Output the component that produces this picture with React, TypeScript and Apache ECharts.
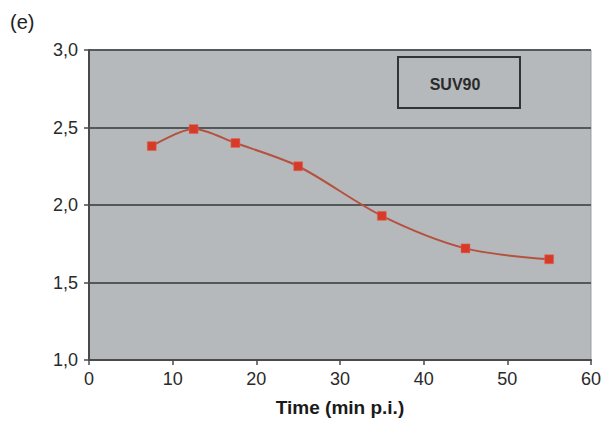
import React, { useEffect, useRef } from "react";
import * as echarts from "echarts";

const timeMin = [7.5, 12.5, 17.5, 25, 35, 45, 55];
const suv90 = [2.38, 2.49, 2.4, 2.25, 1.93, 1.72, 1.65];
const seriesName = "SUV90";
const panelLabel = "(e)";
const xTitle = "Time (min p.i.)";

export default function App() {
  const ref = useRef<HTMLDivElement>(null);
  useEffect(() => {
    if (!ref.current) return;
    const chart = echarts.init(ref.current, null, { renderer: "svg" });
    chart.setOption({
      animation: false,
      backgroundColor: "#ffffff",
      textStyle: { fontFamily: "Liberation Sans, Arial, sans-serif" },
      grid: {
        left: 89,
        right: 12,
        top: 50,
        bottom: 65,
        show: true,
        backgroundColor: "#b6b9bc",
        borderColor: "#9a9da0",
        borderWidth: 1,
      },
      xAxis: {
        type: "value",
        min: 0,
        max: 60,
        interval: 10,
        name: xTitle,
        nameLocation: "middle",
        nameGap: 38,
        nameTextStyle: { fontSize: 19, fontWeight: "bold", color: "#1a1a1a" },
        axisLine: { show: true, lineStyle: { color: "#4a4a4a", width: 2 } },
        axisTick: { show: true, length: 5, lineStyle: { color: "#4a4a4a", width: 1.5 } },
        axisLabel: { fontSize: 18, color: "#2a2a2a", margin: 10 },
        splitLine: { show: false },
      },
      yAxis: {
        type: "value",
        min: 1,
        max: 3,
        interval: 0.5,
        axisLine: { show: true, lineStyle: { color: "#4a4a4a", width: 2 } },
        axisTick: { show: true, length: 5, lineStyle: { color: "#4a4a4a", width: 1.5 } },
        axisLabel: {
          fontSize: 18,
          color: "#2a2a2a",
          margin: 11,
          formatter: (v: number) => v.toFixed(1).replace(".", ","),
        },
        splitLine: { show: true, lineStyle: { color: "#55585a", width: 2 } },
      },
      graphic: [
        {
          type: "text",
          left: 10,
          top: 12,
          style: { text: panelLabel, fontSize: 20, fill: "#222", fontFamily: "Liberation Sans, Arial, sans-serif" },
        },
        {
          type: "rect",
          shape: { x: 398, y: 57, width: 122, height: 51 },
          style: { fill: "#b6b9bc", stroke: "#333", lineWidth: 2 },
          z: 10,
        },
        {
          type: "text",
          x: 455,
          y: 84,
          style: {
            text: seriesName,
            fontSize: 16,
            fontWeight: "bold",
            fill: "#2a2a2a",
            align: "center",
            verticalAlign: "middle",
            fontFamily: "Liberation Sans, Arial, sans-serif",
          },
          z: 11,
        },
      ],
      series: [
        {
          name: seriesName,
          type: "line",
          data: timeMin.map((t, i) => [t, suv90[i]]),
          smooth: 0.3,
          symbol: "rect",
          symbolSize: 9,
          lineStyle: { color: "#b5513f", width: 2 },
          itemStyle: { color: "#d63b2a", borderColor: "#e86a55", borderWidth: 0.5 },
        },
      ],
    });
    return () => chart.dispose();
  }, []);
  return <div ref={ref} style={{ width: 604, height: 425, position: "absolute", left: 0, top: 0 }} />;
}
